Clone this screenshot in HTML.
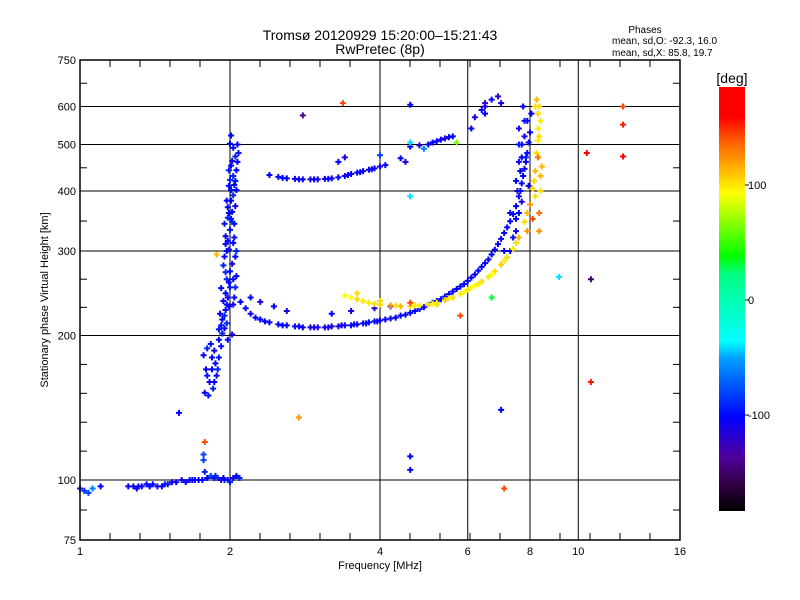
<!DOCTYPE html>
<html><head><meta charset="utf-8">
<style>
html,body{margin:0;padding:0;background:#fff;}
svg{display:block;font-family:"Liberation Sans",sans-serif;}
</style></head>
<body>
<svg id="chart" width="800" height="600" viewBox="0 0 800 600" xmlns="http://www.w3.org/2000/svg">
<defs>
<linearGradient id="cbar" x1="0" y1="1" x2="0" y2="0">
<stop offset="0" stop-color="#000000"/>
<stop offset="0.06" stop-color="#300040"/>
<stop offset="0.13" stop-color="#5000a0"/>
<stop offset="0.22" stop-color="#0000ff"/>
<stop offset="0.36" stop-color="#00a0ff"/>
<stop offset="0.4" stop-color="#00ffff"/>
<stop offset="0.56" stop-color="#00ff80"/>
<stop offset="0.6" stop-color="#00ff00"/>
<stop offset="0.75" stop-color="#ffff00"/>
<stop offset="0.87" stop-color="#ff6000"/>
<stop offset="0.93" stop-color="#ff0000"/>
<stop offset="1" stop-color="#ff0000"/>
</linearGradient>
</defs>
<text x="380" y="40" font-size="14" text-anchor="middle">Tromsø 20120929 15:20:00–15:21:43</text>
<text x="380" y="54" font-size="14" text-anchor="middle">RwPretec (8p)</text>
<text x="645" y="33" font-size="10" text-anchor="middle">Phases</text>
<text x="612" y="44" font-size="10">mean, sd,O: -92.3, 16.0</text>
<text x="612" y="56" font-size="10">mean, sd,X:  85.8, 19.7</text>
<g id="grid"></g>
<g id="marks"></g>
<rect x="80" y="60" width="600" height="480" fill="none" stroke="#000" stroke-width="1.5"/>
<g id="axes"></g>
<text x="380" y="569" font-size="11" text-anchor="middle">Frequency [MHz]</text>
<text transform="translate(48,300) rotate(-90)" font-size="11" text-anchor="middle">Stationary phase Virtual Height [km]</text>
<rect x="719" y="87" width="26" height="424" fill="url(#cbar)"/>
<text x="732" y="83" font-size="14" text-anchor="middle">[deg]</text>
<g id="cbticks"></g>
</svg>
<script>
const xTicks=[1,2,4,6,8,10,16];
const yTicks=[75,100,200,300,400,500,600,750];
const cbTicks=[100,0,-100];
// O-mode E layer [freq MHz, height km, phase deg]
const eLayer=[[1.0,96,-90],[1.02,95,-85],[1.04,94,-80],[1.06,96,-60],[1.1,97,-100],[1.25,97,-100],[1.28,97,-110],[1.3,96,-100],[1.33,97,-105],[1.36,98,-100],[1.4,98,-95],[1.43,97,-110],[1.46,97,-100],[1.5,98,-100],[1.53,99,-105],[1.56,99,-100],[1.6,100,-110],[1.63,99,-100],[1.66,100,-95],[1.7,100,-105],[1.73,100,-100],[1.76,100,-100],[1.78,104,-90],[1.8,101,-100],[1.83,102,-80],[1.86,101,-100],[1.89,101,-90],[1.92,100,-110],[1.95,100,-95],[1.98,100,-100],[2.0,99,-90],[2.03,101,-110],[2.06,102,-100],[2.09,101,-90],[1.77,110,-80],[1.77,113,-80],[1.58,138,-100],[1.31,97,-100],[1.38,97,-100],[1.48,98,-95],[1.68,100,-100],[1.87,102,-90],[1.94,101,-100]];
// F cusp near 2 MHz
const fCusp=[[1.78,152,-100],[1.8,165,-95],[1.82,160,-110],[1.84,170,-100],[1.85,155,-90],[1.87,175,-100],[1.88,165,-105],[1.9,180,-95],[1.77,182,-100],[1.8,188,-90],[1.83,192,-100],[1.86,186,-110],[1.9,196,-100],[1.93,202,-95],[1.95,207,-100],[1.92,190,-100],[1.97,212,-90],[1.96,226,-100],[1.98,240,-110],[2.0,252,-95],[1.94,236,-100],[1.97,262,-90],[2.0,272,-100],[2.02,282,-110],[1.95,292,-100],[1.99,302,-90],[2.03,312,-100],[1.96,322,-105],[2.0,332,-95],[2.04,342,-100],[1.98,352,-90],[2.02,362,-100],[2.05,372,-110],[1.97,382,-100],[2.01,402,-95],[2.04,412,-100],[2.0,422,-90],[2.06,442,-100],[2.02,462,-110],[2.05,472,-90],[2.0,502,-100],[2.03,492,-95],[2.01,522,-100],[1.99,230,-100],[2.03,232,-110],[2.05,252,-90],[2.06,266,-100],[1.93,216,-100],[1.9,206,-95],[1.98,196,-100],[2.02,201,-110],[1.96,271,-90],[2.05,292,-100],[2.01,382,-100],[1.99,442,-90],[2.06,402,-100],[1.95,342,-95],[2.03,262,-100],[1.92,251,-100],[1.94,280,-90],[1.97,300,-100],[2.04,320,-95],[1.99,360,-100],[2.03,430,-90],[2.07,460,-100],[2.08,480,-95],[1.98,315,-100],[2.02,345,-90],[1.96,245,-100],[1.91,222,-105],[1.79,170,-100],[1.81,150,-95],[1.86,160,-100],[1.89,170,-90],[1.84,180,-100],[1.92,210,-95],[1.95,220,-90],[1.97,232,-100],[2.04,240,-95],[1.99,258,-100],[2.06,300,-90],[1.96,310,-100],[2.01,350,-95],[1.98,370,-100],[2.03,392,-90],[1.99,410,-100],[2.05,420,-95],[2.01,452,-100],[2.07,500,-100]];
// O-mode F2 trace
const oTrace=[[2.1,235,-100],[2.15,228,-100],[2.2,222,-105],[2.25,218,-100],[2.3,216,-100],[2.4,213,-105],[2.5,211,-100],[2.6,210,-100],[2.7,209,-100],[2.8,208,-105],[2.9,208,-115],[3.0,208,-110],[3.1,208,-115],[3.2,209,-110],[3.3,209,-115],[3.4,210,-110],[3.5,210,-100],[3.6,211,-105],[3.7,212,-105],[3.8,213,-100],[3.9,214,-100],[4.0,215,-105],[4.2,217,-105],[4.4,220,-100],[4.6,223,-100],[4.8,227,-100],[5.0,232,-100],[5.2,236,-105],[5.4,241,-105],[5.6,247,-100],[5.8,253,-100],[6.0,260,-105],[6.2,268,-105],[6.4,278,-100],[6.6,288,-100],[6.8,302,-105],[7.0,318,-105],[7.2,336,-100],[7.4,358,-100],[7.6,390,-105],[7.7,415,-100],[7.8,445,-105],[7.9,480,-100],[8.0,530,-105],[8.05,580,-100],[2.2,240,-100],[2.3,235,-110],[2.45,230,-100],[2.6,225,-110],[3.2,222,-100],[3.5,225,-110],[3.9,228,-120],[4.2,230,-110],[7.3,300,-100],[7.5,330,-110],[7.6,360,-100],[7.7,380,-110],[7.5,420,-100],[7.6,460,-110],[7.7,500,-100],[7.8,520,-110],[7.9,560,-100],[7.6,540,-110],[7.75,600,-100],[7.85,470,-90],[7.55,400,-110],[7.65,440,-100],[7.95,410,-110],[7.3,360,-100],[6.5,600,-110],[6.7,620,-100],[6.9,630,-120],[7.0,610,-110],[6.5,580,-100],[2.35,214,-100],[2.55,210,-100],[2.75,209,-105],[2.95,208,-110],[3.15,208,-110],[3.35,210,-105],[3.55,211,-100],[3.75,212,-100],[3.95,214,-100],[4.1,216,-100],[4.3,218,-100],[4.5,221,-100],[4.7,225,-100],[4.9,229,-100],[5.1,234,-100],[5.3,238,-100],[5.5,244,-100],[5.7,250,-100],[5.9,256,-100],[6.1,264,-100],[6.3,273,-100],[6.5,283,-100],[6.7,295,-100],[6.9,310,-100],[7.1,327,-100],[7.3,346,-100],[7.5,372,-100],[7.65,400,-100],[7.75,430,-100],[7.85,460,-100],[7.95,505,-100],[7.8,560,-95],[7.7,470,-100],[7.6,500,-95],[7.5,350,-100],[7.4,320,-95],[7.1,300,-100]];
// X-mode trace
const xTrace=[[3.4,242,90],[3.6,238,100],[3.8,234,95],[4.0,232,100],[4.2,231,120],[4.4,230,110],[4.6,230,100],[4.8,231,95],[5.0,232,100],[5.2,234,90],[5.4,237,105],[5.6,240,100],[5.8,244,95],[6.0,249,100],[6.2,254,90],[6.4,259,100],[6.6,265,95],[6.8,272,100],[7.0,281,105],[7.2,291,100],[7.4,303,95],[7.6,320,110],[7.8,345,100],[8.0,375,120],[8.1,405,100],[8.2,440,110],[8.25,480,100],[8.3,540,95],[8.3,580,100],[8.25,620,110],[8.35,360,130],[8.4,400,100],[8.45,450,110],[8.35,520,100],[8.4,560,95],[8.2,600,100],[8.3,470,130],[8.35,330,120],[8.1,350,140],[8.2,390,100],[7.9,330,120],[3.6,245,100],[4.0,236,100],[4.6,234,140],[5.2,232,100],[6.1,252,90],[3.5,240,90],[3.7,236,95],[3.9,233,100],[4.3,231,100],[4.7,231,95],[5.1,233,90],[5.5,239,95],[5.9,247,90],[6.3,256,95],[6.7,268,90],[7.1,286,95],[7.5,312,100],[7.9,360,110],[8.15,420,100],[8.3,510,95],[8.35,600,100],[8.4,430,110]];
// Upper F trace
const upTrace=[[2.4,432,-100],[2.5,428,-95],[2.6,425,-100],[2.7,424,-110],[2.8,423,-100],[2.9,423,-110],[3.0,423,-110],[3.1,424,-110],[3.2,425,-110],[3.3,427,-100],[3.4,430,-110],[3.5,434,-100],[3.6,437,-110],[3.7,440,-100],[3.8,443,-110],[3.9,446,-100],[4.0,450,-110],[4.1,453,-100],[4.4,468,-100],[4.5,460,-110],[3.3,460,-100],[3.4,470,-110],[4.0,475,-80],[4.6,495,-100],[4.8,498,-110],[5.0,500,-100],[5.2,508,-110],[5.4,515,-120],[5.6,520,-100],[4.9,490,-60],[5.7,505,60],[6.1,540,-100],[6.2,570,-110],[6.4,590,-100],[6.5,610,-120],[2.55,426,-100],[2.75,423,-100],[2.95,423,-100],[3.15,424,-100],[3.45,432,-100],[3.65,438,-100],[3.85,444,-100],[5.1,505,-100],[5.3,512,-100],[5.5,518,-100]];
// isolated echoes
const strays=[[3.37,610,140],[2.8,575,-140],[4.6,605,-100],[2.75,135,120],[1.88,295,110],[4.6,112,-100],[4.6,105,-100],[7.0,140,-100],[7.1,96,140],[10.6,262,-150],[10.6,160,150],[12.3,600,140],[12.3,550,150],[12.3,472,160],[10.4,480,160],[9.15,265,-40],[4.6,390,-40],[4.6,505,-40],[5.8,220,140],[6.7,240,30],[1.78,120,140]];

const X0=80,X1=680,Y0=540,Y1=60;
function xs(f){return X0+(X1-X0)*Math.log2(f)/4;}
function ys(h){return Y0-(Y0-Y1)*Math.log10(h/75);}
const cstops=[[-180,[0,0,0]],[-160,[48,0,64]],[-135,[80,0,160]],[-100,[0,0,255]],[-50,[0,160,255]],[-35,[0,255,255]],[20,[0,255,128]],[35,[0,255,0]],[90,[255,255,0]],[135,[255,96,0]],[155,[255,0,0]],[180,[255,0,0]]];
function pcol(p){for(let i=1;i<cstops.length;i++){const a=cstops[i-1],b=cstops[i];if(p<=b[0]){const t=Math.max(0,(p-a[0])/(b[0]-a[0]));return 'rgb('+a[1].map((c,k)=>Math.round(c+(b[1][k]-c)*t)).join(',')+')';}}return 'rgb(255,0,0)';}
const NS='http://www.w3.org/2000/svg';
function mk(tag,attrs,parent){const e=document.createElementNS(NS,tag);for(const k in attrs)e.setAttribute(k,attrs[k]);parent.appendChild(e);return e;}
const grid=document.getElementById('grid'),axes=document.getElementById('axes');
xTicks.forEach(f=>{const x=xs(f);
 if(f>1&&f<16){const l=mk('line',{x1:x,x2:x,y1:Y1,y2:Y0,stroke:'#000','stroke-width':1},grid);
 
 }
 const t=mk('text',{x:x,y:Y0+15,'font-size':11,'text-anchor':'middle'},axes);t.textContent=f;
 
 
});
for(let x=X0+30;x<X1;x+=30){mk('line',{x1:x,x2:x,y1:Y0,y2:Y0-7,stroke:'#000'},axes);mk('line',{x1:x,x2:x,y1:Y1,y2:Y1+7,stroke:'#000'},axes);}
yTicks.forEach((h,i)=>{const y=ys(h);
 if(h>75&&h<750){const l=mk('line',{x1:X0,x2:X1,y1:y,y2:y,stroke:'#000','stroke-width':1},grid);
 
 }
 const t=mk('text',{x:X0-4,y:y+4,'font-size':11,'text-anchor':'end'},axes);t.textContent=h;
 
 
 if(i>0){const yp=ys(yTicks[i-1]);const n=Math.max(1,Math.round((yp-y)/29));for(let k=1;k<n;k++){const yy=yp-(yp-y)*k/n;mk('line',{x1:X0,x2:X0+7,y1:yy,y2:yy,stroke:'#000'},axes);mk('line',{x1:X1,x2:X1-7,y1:yy,y2:yy,stroke:'#000'},axes);}}
});
const cb=document.getElementById('cbticks');
cbTicks.forEach(v=>{const y=300-v*1.15;mk('line',{x1:745,x2:749,y1:y,y2:y,stroke:'#000'},cb);
 const t=mk('text',{x:748,y:y+4,'font-size':11},cb);t.textContent=v;
 
 });
const marks=document.getElementById('marks');
[eLayer,fCusp,oTrace,xTrace,upTrace,strays].forEach(series=>{series.forEach(d=>{const x=xs(d[0]),y=ys(d[1]);
 const p=mk('path',{d:'M'+(x-3)+' '+y+'h6M'+x+' '+(y-3)+'v6',stroke:pcol(d[2]),'stroke-width':2},marks);
 
 
});});
</script>
</body></html>
